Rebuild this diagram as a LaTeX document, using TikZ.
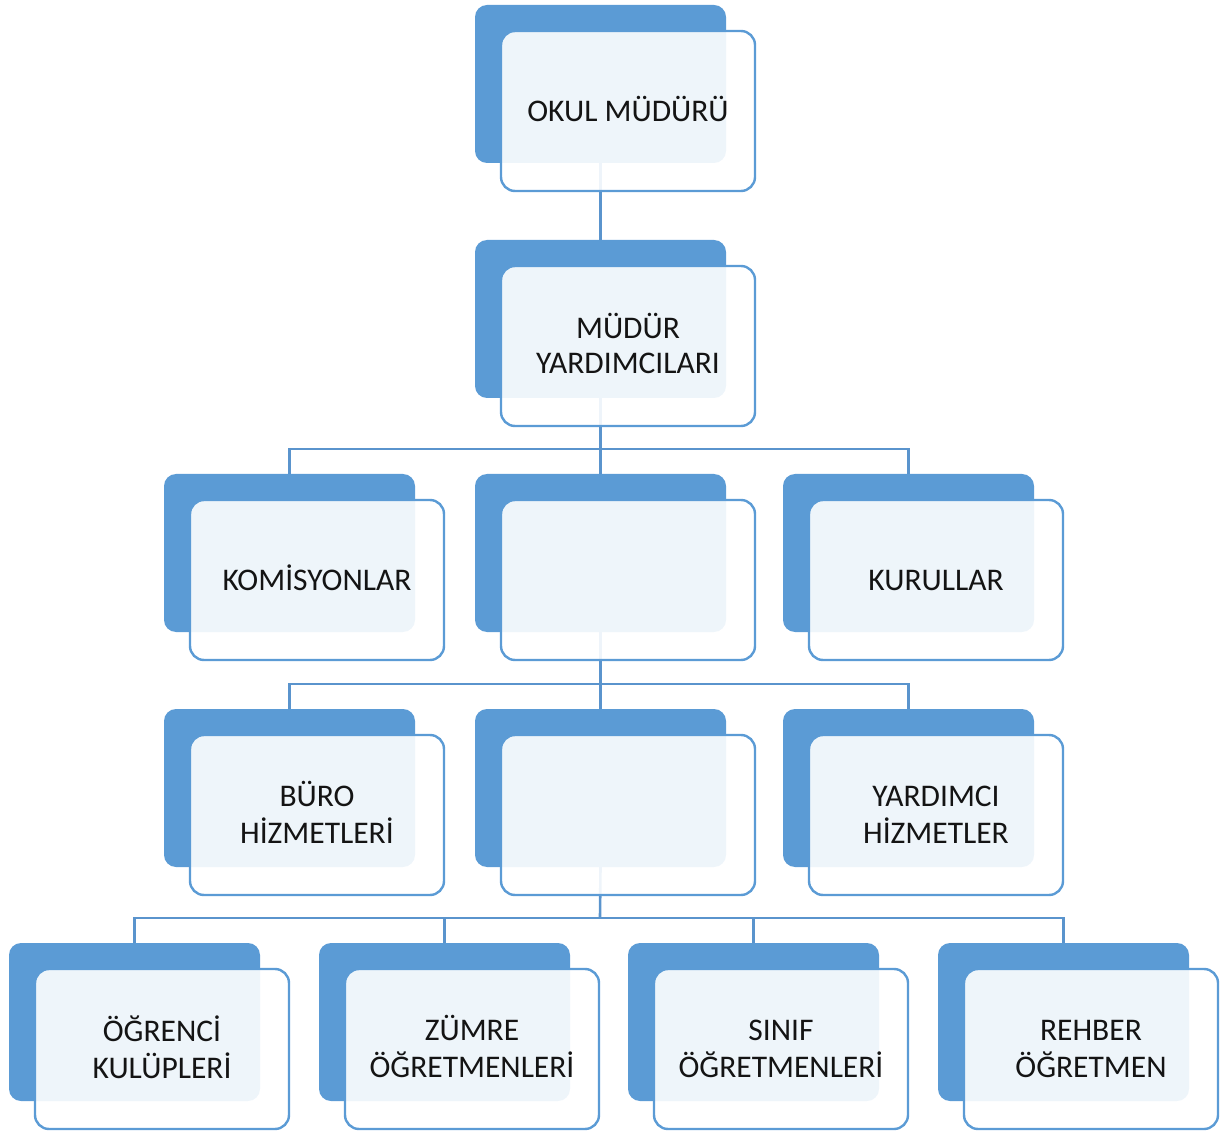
\documentclass[tikz,border=0pt]{standalone}
\usepackage{fontspec}
\setmainfont{Carlito}
\definecolor{boxblue}{HTML}{5B9BD5}
\definecolor{lineblue}{HTML}{5A94CD}
\definecolor{txt}{HTML}{141414}
\tikzset{
  backbox/.style={rectangle, rounded corners=12pt, fill=boxblue, inner sep=0pt, outer sep=0pt,
    minimum width=251pt, minimum height=158pt, anchor=north west},
  frontbox/.style={rectangle, rounded corners=14pt, draw=boxblue, line width=2.4pt,
    fill=white, fill opacity=0.9, inner sep=0pt, outer sep=0pt,
    minimum width=254pt, minimum height=160pt, anchor=north west},
  boxtext/.style={align=center, text=txt, inner sep=0pt,
    font=\fontsize{31.5pt}{35pt}\selectfont},
  conn/.style={draw=lineblue, line width=2.6pt}
}
\newcommand\orgback[3]{\node[backbox] (#1) at (#2,#3) {};}
\newcommand\orgfront[4]{\node[frontbox] (#1) at ({#2+26},{#3+26}) {};
  \node[boxtext] (t#1) at ([yshift=-3pt]#1.center) {#4};}
\begin{document}
\begin{tikzpicture}[x=1pt,y=-1pt]
\useasboundingbox (0,0) rectangle (1227,1131);
% back rectangles
\orgback{b1}{475}{5}
\orgback{b2}{475}{240}
\orgback{b3l}{164}{474}
\orgback{b3m}{475}{474}
\orgback{b3r}{783}{474}
\orgback{b4l}{164}{709}
\orgback{b4m}{475}{709}
\orgback{b4r}{783}{709}
\orgback{b5a}{9}{943}
\orgback{b5b}{319}{943}
\orgback{b5c}{628}{943}
\orgback{b5d}{938}{943}
% junctions
\coordinate (j2) at (600,449);
\coordinate (j3) at (600,684);
\coordinate (j4) at (600,918);
% connectors
\draw[conn] (b1.south) -- (b2.north);
\draw[conn] (b2.south) -- (b3m.north);
\draw[conn] (b3l.north) |- (j2) -| (b3r.north);
\draw[conn] (b3m.south) -- (b4m.north);
\draw[conn] (b4l.north) |- (j3) -| (b4r.north);
\draw[conn] (b4m.south) -- (j4);
\draw[conn] (b5a.north) |- (j4) -| (b5d.north);
\draw[conn] (b5b.north) -- (b5b.north |- j4);
\draw[conn] (b5c.north) -- (b5c.north |- j4);
% front rectangles
\orgfront{f1}{475}{5}{\strut OKUL MÜDÜRÜ}
\orgfront{f2}{475}{240}{\strut MÜDÜR\\\strut YARDIMCILARI}
\orgfront{f3l}{164}{474}{\strut KOMİSYONLAR}
\orgfront{f3m}{475}{474}{}
\orgfront{f3r}{783}{474}{\strut KURULLAR}
\orgfront{f4l}{164}{709}{\strut BÜRO\\\strut HİZMETLERİ}
\orgfront{f4m}{475}{709}{}
\orgfront{f4r}{783}{709}{\strut YARDIMCI\\\strut HİZMETLER}
\orgfront{f5a}{9}{943}{\strut ÖĞRENCİ\\\strut KULÜPLERİ}
\orgfront{f5b}{319}{943}{\strut ZÜMRE\\\strut ÖĞRETMENLERİ}
\orgfront{f5c}{628}{943}{\strut SINIF\\\strut ÖĞRETMENLERİ}
\orgfront{f5d}{938}{943}{\strut REHBER\\\strut ÖĞRETMEN}
\end{tikzpicture}
\end{document}
